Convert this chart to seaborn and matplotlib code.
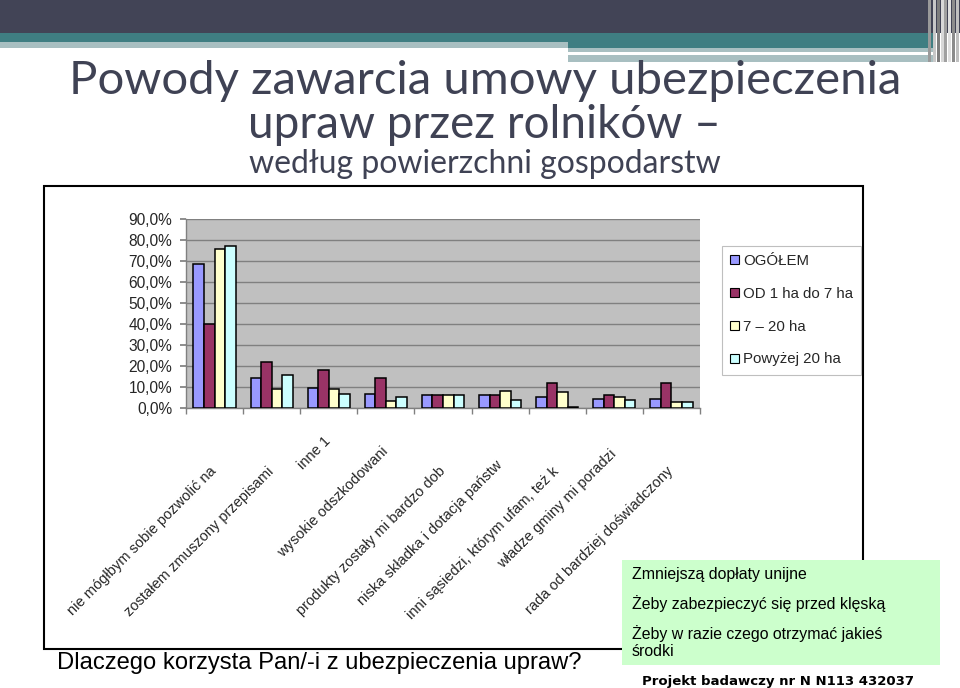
import numpy as np
import pandas as pd
import seaborn as sns
import matplotlib
matplotlib.use("Agg")
from matplotlib import pyplot as plt
from matplotlib.patches import Rectangle, Patch
from matplotlib.ticker import FuncFormatter, MultipleLocator
from matplotlib.transforms import offset_copy

# --- data (percent) ---
powody = [
    "nie mógłbym sobie pozwolić na",
    "zostałem zmuszony przepisami",
    "inne 1",
    "wysokie odszkodowani",
    "produkty zostały mi bardzo dob",
    "niska składka i dotacja państw",
    "inni sąsiedzi, którym ufam, też k",
    "władze gminy mi poradzi",
    "rada od bardziej doświadczony",
]
grupy = ["OGÓŁEM", "OD 1 ha do 7 ha", "7 – 20 ha", "Powyżej 20 ha"]
ogolem = [68.8, 14.3, 9.7, 6.8, 6.0, 6.0, 5.2, 4.5, 4.5]
od_1_do_7 = [39.9, 21.9, 18.1, 14.3, 6.0, 6.0, 12.1, 6.0, 12.1]
od_7_do_20 = [75.7, 8.9, 8.9, 3.5, 6.0, 8.3, 7.5, 5.2, 2.9]
powyzej_20 = [77.3, 15.9, 6.8, 5.2, 6.0, 3.7, 0.6, 3.7, 2.9]
kolory = ["#9999FF", "#993366", "#FFFFCC", "#CCFFFF"]

inne_powody = [
    "Zmniejszą dopłaty unijne",
    "Żeby zabezpieczyć się przed klęską",
    "Żeby w razie czego otrzymać jakieś\nśrodki",
]

df = pd.DataFrame({
    "powod": powody * 4,
    "grupa": np.repeat(grupy, len(powody)),
    "wartosc": ogolem + od_1_do_7 + od_7_do_20 + powyzej_20,
})

sns.set_theme(style="white")
plt.rcParams["font.family"] = ["Liberation Sans", "DejaVu Sans"]

W, H = 960, 688
fig = plt.figure(figsize=(W / 100, H / 100), dpi=100)


def fx(px):
    return px / W


def fy(py):
    return 1 - py / H


def rect(x0, y0, x1, y1, color, **kw):
    # pixel box (top-left origin) -> figure rectangle
    fig.add_artist(Rectangle((fx(x0), fy(y1)), fx(x1 - x0), (y1 - y0) / H,
                             transform=fig.transFigure, facecolor=color,
                             edgecolor="none", **kw))


# header bands
rect(0, 0, 960, 33, "#424456")
rect(0, 33, 568, 42, "#3F7E82")
rect(568, 33, 935, 48, "#3F7E82")
rect(0, 42, 568, 48, "#A8BFC1")
rect(568, 48, 935, 52, "#A8BFC1")
rect(568, 55, 935, 62, "#A8BFC1")
for xs, c in zip([928, 933, 937, 941, 944, 948, 952, 956],
                 ["#9A9A9A", "#C8C8C8", "#7E7E7E", "#D8D8D8", "#A0A0A0", "#E0E0E0", "#8C8C8C", "#C0C0C0"]):
    rect(xs, 0, xs + 3, 62, c)

# titles
kol_tyt = "#3F4254"
fig.text(0.505, fy(81), "Powody zawarcia umowy ubezpieczenia", ha="center", va="center",
         fontsize=34, color=kol_tyt, family="Lato")
fig.text(0.505, fy(125), "upraw przez rolników –", ha="center", va="center",
         fontsize=33, color=kol_tyt, family="Lato")
fig.text(0.505, fy(164), "według powierzchni gospodarstw", ha="center", va="center",
         fontsize=23, color=kol_tyt, family="Lato")

# chart frame
fig.add_artist(Rectangle((fx(44), fy(649)), fx(863 - 44), (649 - 186) / H,
                         transform=fig.transFigure, facecolor="none",
                         edgecolor="black", linewidth=1.5))

ax = fig.add_axes([fx(186), fy(408), fx(700 - 186), (408 - 219) / H])
sns.barplot(data=df, x="powod", y="wartosc", hue="grupa", palette=kolory,
            width=0.74, edgecolor="black", linewidth=1.1, saturation=1,
            legend=False, ax=ax, zorder=3)
ax.set_facecolor("#C0C0C0")
ax.set_ylim(0, 90)
ax.set_xlim(-0.5, len(powody) - 0.5)
ax.yaxis.set_major_locator(MultipleLocator(10))
ax.yaxis.set_major_formatter(FuncFormatter(lambda v, _: f"{v:.1f}%".replace(".", ",")))
ax.grid(axis="y", color="#808080", linewidth=1, zorder=0)
ax.set_axisbelow(True)
for s in ["top", "right"]:
    ax.spines[s].set_visible(False)
for s in ["left", "bottom"]:
    ax.spines[s].set_color("#808080")
    ax.spines[s].set_linewidth(1)
ax.set_xlabel("")
ax.set_ylabel("")
ax.tick_params(axis="y", left=True, length=4, color="#808080", labelsize=11.2, pad=6)
ax.set_xticks(range(len(powody)))
ax.set_xticklabels([])
ax.set_xticks(np.arange(-0.5, len(powody)), minor=True)
ax.tick_params(axis="x", which="major", length=0)
ax.tick_params(axis="x", which="minor", bottom=True, length=4, color="#808080")

# rotated category labels, staggered like the Excel original
podniesienie_px = [0, 0, 30, 20, 0, 6, 0, 17, 0]
for i, (txt, d) in enumerate(zip(powody, podniesienie_px)):
    tr = offset_copy(ax.get_xaxis_transform(), fig=fig, x=0, y=-(61 - d), units="dots")
    ax.text(i, 0, txt, transform=tr, rotation=45, ha="right", va="center",
            rotation_mode="anchor", fontsize=10.5, clip_on=False)

# legend
uchwyty = [Patch(facecolor=c, edgecolor="black", linewidth=0.8) for c in kolory]
leg = fig.legend(uchwyty, grupy, loc="upper left", bbox_to_anchor=(fx(722), fy(246)),
                 frameon=True, fancybox=False, edgecolor="#B0B0B0", facecolor="white",
                 handlelength=0.55, handleheight=0.55, handletextpad=0.3,
                 labelspacing=1.25, borderpad=0.55, borderaxespad=0,
                 prop={"size": 10.8})
leg.get_frame().set_linewidth(0.8)

# question below the chart
fig.text(fx(57), fy(663), "Dlaczego korzysta Pan/-i z ubezpieczenia upraw?", ha="left",
         va="center", fontsize=17.1, color="black")

# green box with other reasons
rect(622, 560, 940, 665, "#CCFFCC", zorder=5)
for y, txt in zip([575, 604, 642], inne_powody):
    fig.text(fx(632), fy(y), txt, ha="left", va="center",
             fontsize=11.4, color="black", zorder=6, linespacing=1.2)

fig.text(fx(778), fy(681), "Projekt badawczy nr N N113 432037", ha="center", va="center",
         fontsize=9.5, fontweight="bold", family="DejaVu Sans", color="black")

fig.savefig("out.png", dpi=100, facecolor="white")
